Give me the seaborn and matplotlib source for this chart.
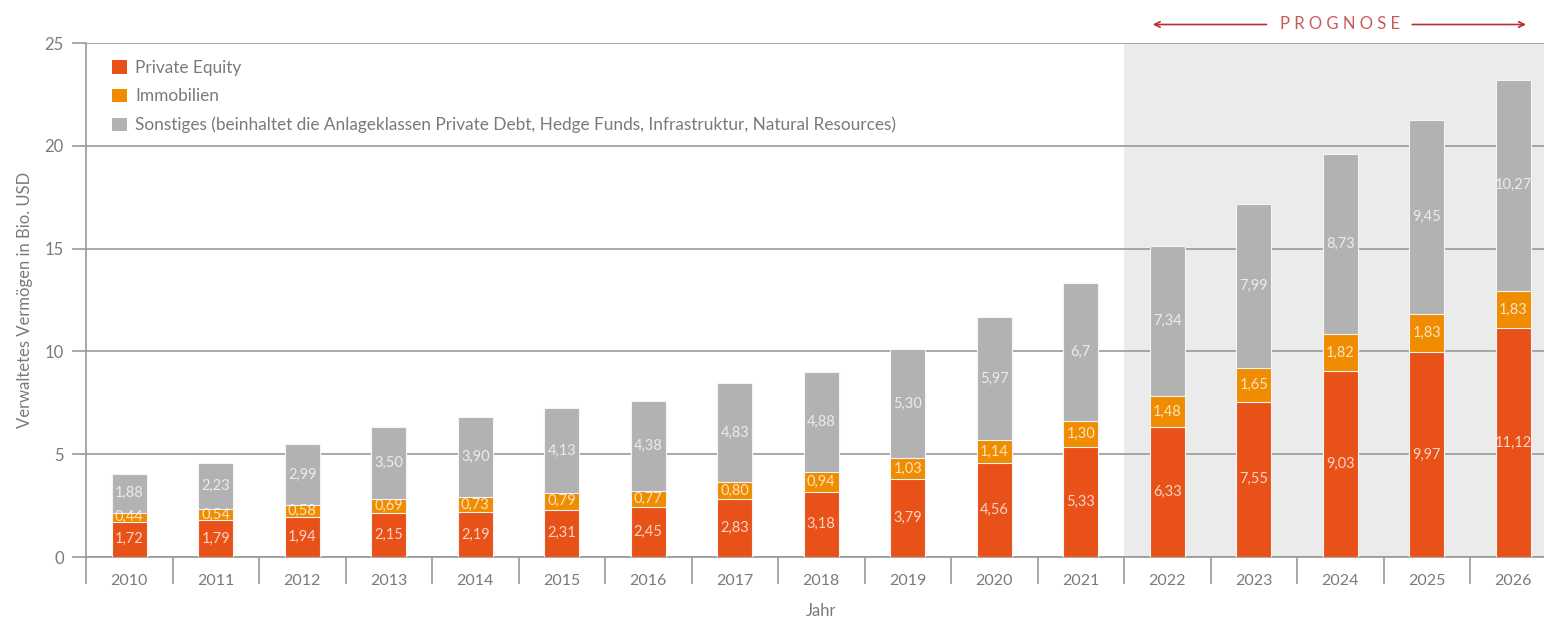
import matplotlib
matplotlib.use("Agg")
import matplotlib.pyplot as plt
import seaborn as sns
from matplotlib.patches import Patch

# Daten (Werte in Bio. USD, wie im Original mit Dezimalkomma)
jahre = ["2010", "2011", "2012", "2013", "2014", "2015", "2016", "2017", "2018",
         "2019", "2020", "2021", "2022", "2023", "2024", "2025", "2026"]
private_equity = ["1,72", "1,79", "1,94", "2,15", "2,19", "2,31", "2,45", "2,83", "3,18",
                  "3,79", "4,56", "5,33", "6,33", "7,55", "9,03", "9,97", "11,12"]
immobilien = ["0,44", "0,54", "0,58", "0,69", "0,73", "0,79", "0,77", "0,80", "0,94",
              "1,03", "1,14", "1,30", "1,48", "1,65", "1,82", "1,83", "1,83"]
sonstiges = ["1,88", "2,23", "2,99", "3,50", "3,90", "4,13", "4,38", "4,83", "4,88",
             "5,30", "5,97", "6,7", "7,34", "7,99", "8,73", "9,45", "10,27"]
prognose_ab = "2022"

serien = ["Private Equity", "Immobilien",
          "Sonstiges (beinhaltet die Anlageklassen Private Debt, Hedge Funds, "
          "Infrastruktur, Natural Resources)"]
farben = ["#e85118", "#f08c00", "#b2b2b2"]


def zahl(s):
    return float(s.replace(",", "."))


pe = [zahl(v) for v in private_equity]
im = [zahl(v) for v in immobilien]
so = [zahl(v) for v in sonstiges]
stufe1 = pe
stufe2 = [a + b for a, b in zip(pe, im)]
stufe3 = [a + b for a, b in zip(stufe2, so)]

sns.set_style("white")
plt.rcParams["font.family"] = ["Lato", "DejaVu Sans"]
grau = "#999999"
textgrau = "#7a7a7a"

fig = plt.figure(figsize=(15.44, 6.17), dpi=100)
# Achse etwas ueber den rechten Rand hinaus, wie im Original
ax = fig.add_axes([86 / 1544, 60 / 617, 1470.5 / 1544, 514 / 617])

# Prognose-Bereich
start = jahre.index(prognose_ab) - 0.5
ax.axvspan(start, len(jahre) - 0.5, color="#ebebeb", zorder=0, lw=0)

# Gestapelte Balken: Gesamt zuerst, dann darueber die unteren Stufen
for hoehe, farbe in zip([stufe3, stufe2, stufe1], farben[::-1]):
    sns.barplot(x=jahre, y=hoehe, color=farbe, width=0.4, ax=ax,
                edgecolor="#f4f4f4", linewidth=0.8, saturation=1, zorder=3)

# Wertebeschriftungen
for i in range(len(jahre)):
    unten = [0, stufe1[i], stufe2[i]]
    oben = [stufe1[i], stufe2[i], stufe3[i]]
    texte = [private_equity[i], immobilien[i], sonstiges[i]]
    for u, o, t in zip(unten, oben, texte):
        ax.text(i, (u + o) / 2, t, ha="center", va="center", fontsize=10.5,
                color="white", alpha=0.75, zorder=4)

ax.set_xlim(-0.5, len(jahre) - 0.5)
ax.set_ylim(0, 25)
ax.set_yticks([0, 5, 10, 15, 20, 25])
ax.yaxis.grid(True, color=grau, lw=1.2, zorder=1)
ax.set_axisbelow(True)
for s in ["top", "right"]:
    ax.spines[s].set_visible(False)
for s in ["left", "bottom"]:
    ax.spines[s].set_color(grau)
    ax.spines[s].set_linewidth(1.2)

ax.set_xticks(range(len(jahre)))
ax.set_xticklabels(jahre)
ax.set_xticks([i - 0.5 for i in range(len(jahre) + 1)], minor=True)
ax.tick_params(axis="x", which="major", length=0, pad=12, labelsize=11.5,
               labelcolor=textgrau, bottom=True)
ax.tick_params(axis="x", which="minor", length=19.5, width=1.2, color=grau,
               bottom=True)
ax.tick_params(axis="y", length=10, width=1.2, color=grau, pad=6,
               labelsize=12, labelcolor=textgrau, left=True)

ax.set_xlabel("Jahr", fontsize=12, color=textgrau, labelpad=10)
ax.set_ylabel("Verwaltetes Vermögen in Bio. USD", fontsize=12,
              color=textgrau, labelpad=8)

# Legende
handles = [Patch(facecolor=f, edgecolor="none") for f in farben]
ax.legend(handles, serien, loc="upper left", frameon=False,
          bbox_to_anchor=(26 / 1470.5, 1 - 17 / 514), borderpad=0,
          borderaxespad=0, handlelength=0.85, handleheight=0.85,
          handletextpad=0.5, labelspacing=0.72, fontsize=12.4,
          labelcolor=textgrau)

# Prognose-Kennzeichnung
rot = "#b8312f"
mitte = (start + len(jahre) - 0.5) / 2
y_prog = 25.9
ax.text(mitte, y_prog, "P R O G N O S E", ha="center", va="center",
        fontsize=12, color="#c85a5a", clip_on=False)
ax.annotate("", xy=(start + 0.3, y_prog), xytext=(mitte - 0.82, y_prog),
            arrowprops=dict(arrowstyle="->", color=rot, lw=1.2), annotation_clip=False)
ax.annotate("", xy=(len(jahre) - 0.5 - 0.32, y_prog), xytext=(mitte + 0.8, y_prog),
            arrowprops=dict(arrowstyle="->", color=rot, lw=1.2), annotation_clip=False)

fig.savefig("out.png", dpi=100)
